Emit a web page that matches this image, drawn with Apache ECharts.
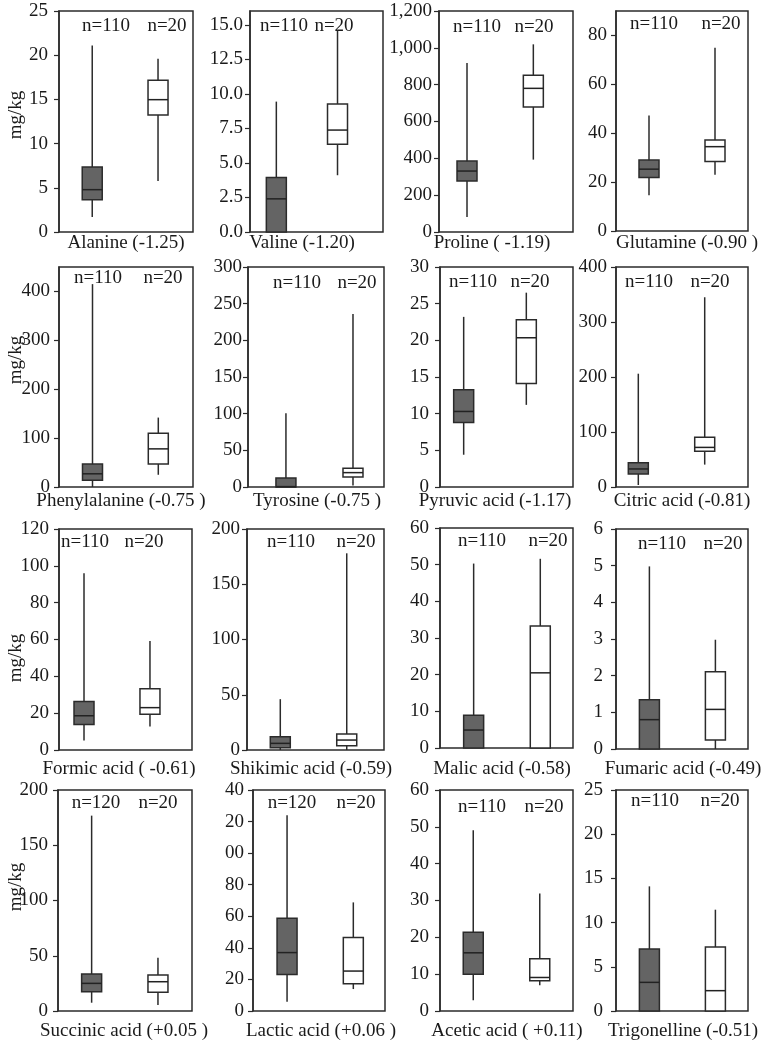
<!DOCTYPE html>
<html>
<head>
<meta charset="utf-8">
<script src="https://cdn.jsdelivr.net/npm/echarts@6/dist/echarts.min.js"></script>
<style>
html,body{margin:0;padding:0;background:#fff;}
#chart{width:761px;height:1043px;}
</style>
</head>
<body>
<div id="chart"></div>
<script>
// ---------- DATA ----------
const panelNames = [
  'Alanine (-1.25)', 'Valine (-1.20)', 'Proline ( -1.19)', 'Glutamine (-0.90 )',
  'Phenylalanine (-0.75 )', 'Tyrosine (-0.75 )', 'Pyruvic acid (-1.17)', 'Citric acid (-0.81)',
  'Formic acid ( -0.61)', 'Shikimic acid (-0.59)', 'Malic acid (-0.58)', 'Fumaric acid (-0.49)',
  'Succinic acid (+0.05 )', 'Lactic acid (+0.06 )', 'Acetic acid ( +0.11)', 'Trigonelline (-0.51)'
];
const groupN = [
  ['n=110','n=20'],['n=110','n=20'],['n=110','n=20'],['n=110','n=20'],
  ['n=110','n=20'],['n=110','n=20'],['n=110','n=20'],['n=110','n=20'],
  ['n=110','n=20'],['n=110','n=20'],['n=110','n=20'],['n=110','n=20'],
  ['n=120','n=20'],['n=120','n=20'],['n=110','n=20'],['n=110','n=20']
];
// [min, Q1, median, Q3, max]
const grayStats = [
  [1.7, 3.66, 4.79, 7.35, 21.1],
  [0, 0, 2.4, 3.94, 9.44],
  [81, 277, 331, 385, 918],
  [14.6, 21.9, 25.3, 29, 47.2],
  [0, 13.6, 27, 46.9, 415],
  [0, 0, 0.5, 12.3, 100.6],
  [4.4, 8.8, 10.3, 13.25, 23.2],
  [3.6, 23.6, 32.8, 44, 206],
  [5.1, 13.8, 18.6, 26.4, 96],
  [0, 2.1, 6, 12, 46],
  [0, 0, 4.9, 8.9, 50.3],
  [0, 0, 0.8, 1.34, 4.98],
  [7.5, 17.5, 25, 33.5, 176.8],
  [5.9, 23.2, 37, 58.7, 124],
  [2.9, 10, 15.8, 21.4, 49.1],
  [0, 0, 3.24, 7, 14.1]
];
const whiteStats = [
  [5.77, 13.24, 14.97, 17.16, 19.6],
  [4.11, 6.36, 7.38, 9.27, 14.6],
  [393, 679, 780, 851, 1019],
  [23, 28.4, 34.5, 37.2, 75],
  [25, 47, 78, 110, 142],
  [2, 13.7, 19.6, 25.5, 236],
  [11.2, 14.1, 20.35, 22.8, 26.5],
  [40.7, 65, 72, 90.4, 345],
  [12.7, 19.4, 23, 33.3, 59.2],
  [0, 3.9, 9, 14.5, 178],
  [0, 0, 20.5, 33.3, 51.6],
  [0, 0.245, 1.08, 2.11, 2.98],
  [5.4, 16.9, 26.5, 32.6, 48.3],
  [13.9, 17.3, 25.3, 46.5, 68.8],
  [7, 8.2, 9.1, 14.2, 31.9],
  [0, 0, 2.3, 7.24, 11.46]
];
// y-axis tick settings
const yMax  = [25, 16, 1200, 90, 450, 300, 30, 400, 120, 200, 60, 6, 200, 140, 60, 25];
const yStep = [5, 2.5, 200, 20, 100, 50, 5, 100, 20, 50, 10, 1, 50, 20, 10, 5];
const yLabelStyle = ['int','dec1','comma','int','int','int','int','int','int','int','int','int','int','last2','int','int'];
const yName = 'mg/kg';

// ---------- LAYOUT (pixel positions, not data) ----------
const gridBox = [ // left, top, right, bottom
  [59,11,193,232],[250,11,383,232],[439,11,573,232],[616,11,748,231],
  [59,267,193,487],[248,267,384,487],[440,267,573,487],[616,267,748,487],
  [59,529,192,750],[247,529,384,750],[440,528,573,748],[616,529,748,749],
  [58,790,192,1011],[253,790,385,1011],[440,790,573,1011],[616,790,748,1011]
];
const boxFrac = [ // fraction of plot width for box centres
  [0.248,0.739],[0.198,0.658],[0.209,0.704],[0.25,0.75],
  [0.250,0.741],[0.279,0.772],[0.178,0.649],[0.169,0.672],
  [0.188,0.684],[0.243,0.728],[0.253,0.754],[0.253,0.753],
  [0.251,0.746],[0.258,0.760],[0.25,0.75],[0.253,0.753]
];
const labelMargin = [11,7,7,9,9,6,11,9,10,7,11,13,10,9,11,13];
const nPos = [
  [106,167,26],[284,334,26],[477,534,27],[654,721,24],
  [98,163,278],[297,357,283],[473,530,282],[649,710,282],
  [85,144,542],[291,356,542],[482,548,541],[662,723,544],
  [96,158,803],[292,356,803],[482,544,807],[655,720,801]
];
const xLabelPos = [
  [126,243],[302,243],[492,243],[687,243],
  [121,501],[317,501],[495,501],[682,501],
  [119,769],[311,769],[502,769],[683,769],
  [124,1031],[321,1031],[507,1031],[683,1031]
];
const yNamePos = [[16,115],[16,360],[16,658],[16,887]];

// ---------- BUILD ----------
const FONT = 'Liberation Serif';
const FS = 19;
const TXT = '#1a1a1a';
const FRAME = '#2b2b2b';
const GRAY = '#646464';

function fmtFactory(kind, step) {
  return function (v) {
    const r = v / step;
    if (Math.abs(r - Math.round(r)) > 1e-6) return '';
    if (kind === 'dec1') return v.toFixed(1);
    if (kind === 'comma') return v.toLocaleString('en-US');
    if (kind === 'last2') return v >= 100 ? String(v).slice(-2) : String(v);
    return String(v);
  };
}

const grids = [], xAxes = [], yAxes = [], series = [], graphics = [];
for (let i = 0; i < 16; i++) {
  const g = gridBox[i];
  grids.push({
    left: g[0], top: g[1], width: g[2] - g[0], height: g[3] - g[1],
    show: true, borderColor: FRAME, borderWidth: 1.5, backgroundColor: 'transparent'
  });
  const f = boxFrac[i];
  const range = 1 / (f[1] - f[0]);
  const xmin = -f[0] * range;
  xAxes.push({ gridIndex: i, type: 'value', min: xmin, max: xmin + range, show: false,
    axisLine: { onZero: false } });
  const ticks = [];
  for (let v = 0; v <= yMax[i] + 1e-9; v += yStep[i]) ticks.push(Math.round(v * 1000) / 1000);
  yAxes.push({
    gridIndex: i, type: 'value', min: 0, max: yMax[i], interval: yStep[i], position: 'left',
    axisLine: { show: true, onZero: false, lineStyle: { color: FRAME, width: 1.5 } },
    axisTick: { show: true, inside: false, length: 5, lineStyle: { color: FRAME, width: 1.2 }, customValues: ticks },
    axisLabel: { show: true, margin: labelMargin[i], fontFamily: FONT, fontSize: FS, color: TXT,
      formatter: fmtFactory(yLabelStyle[i], yStep[i]), customValues: ticks },
    splitLine: { show: false }
  });
  series.push({
    type: 'custom', xAxisIndex: i, yAxisIndex: i, silent: true, clip: false,
    encode: { x: 0, y: [1, 2, 3, 4, 5] },
    data: [[0].concat(grayStats[i]), [1].concat(whiteStats[i])],
    renderItem: function (params, api) {
      const x = api.value(0);
      const lo = api.coord([x, api.value(1)]);
      const q1 = api.coord([x, api.value(2)]);
      const md = api.coord([x, api.value(3)]);
      const q3 = api.coord([x, api.value(4)]);
      const hi = api.coord([x, api.value(5)]);
      const hw = 10;
      const fill = x === 0 ? GRAY : '#ffffff';
      return {
        type: 'group',
        children: [
          { type: 'line', shape: { x1: lo[0], y1: lo[1], x2: hi[0], y2: hi[1] },
            style: { stroke: FRAME, lineWidth: 1.5 } },
          { type: 'rect', shape: { x: q3[0] - hw, y: q3[1], width: 2 * hw, height: q1[1] - q3[1] },
            style: { fill: fill, stroke: FRAME, lineWidth: 1.5 } },
          { type: 'line', shape: { x1: md[0] - hw, y1: md[1], x2: md[0] + hw, y2: md[1] },
            style: { stroke: '#222', lineWidth: 1.5 } }
        ]
      };
    }
  });
  const np = nPos[i];
  graphics.push({ type: 'text', x: np[0], y: np[2], silent: true,
    style: { text: groupN[i][0], fontFamily: FONT, fontSize: FS, fill: TXT, align: 'center', verticalAlign: 'middle' } });
  graphics.push({ type: 'text', x: np[1], y: np[2], silent: true,
    style: { text: groupN[i][1], fontFamily: FONT, fontSize: FS, fill: TXT, align: 'center', verticalAlign: 'middle' } });
  const lp = xLabelPos[i];
  graphics.push({ type: 'text', x: lp[0], y: lp[1], silent: true,
    style: { text: panelNames[i], fontFamily: FONT, fontSize: FS, fill: TXT, align: 'center', verticalAlign: 'middle' } });
}
yNamePos.forEach(function (p) {
  graphics.push({ type: 'text', x: p[0], y: p[1], rotation: Math.PI / 2, silent: true,
    style: { text: yName, fontFamily: FONT, fontSize: FS, fill: TXT, align: 'center', verticalAlign: 'middle' } });
});

const chart = echarts.init(document.getElementById('chart'), null, { renderer: 'canvas' });
chart.setOption({
  animation: false,
  backgroundColor: '#ffffff',
  grid: grids,
  xAxis: xAxes,
  yAxis: yAxes,
  series: series,
  graphic: { elements: graphics }
});
</script>
</body>
</html>
